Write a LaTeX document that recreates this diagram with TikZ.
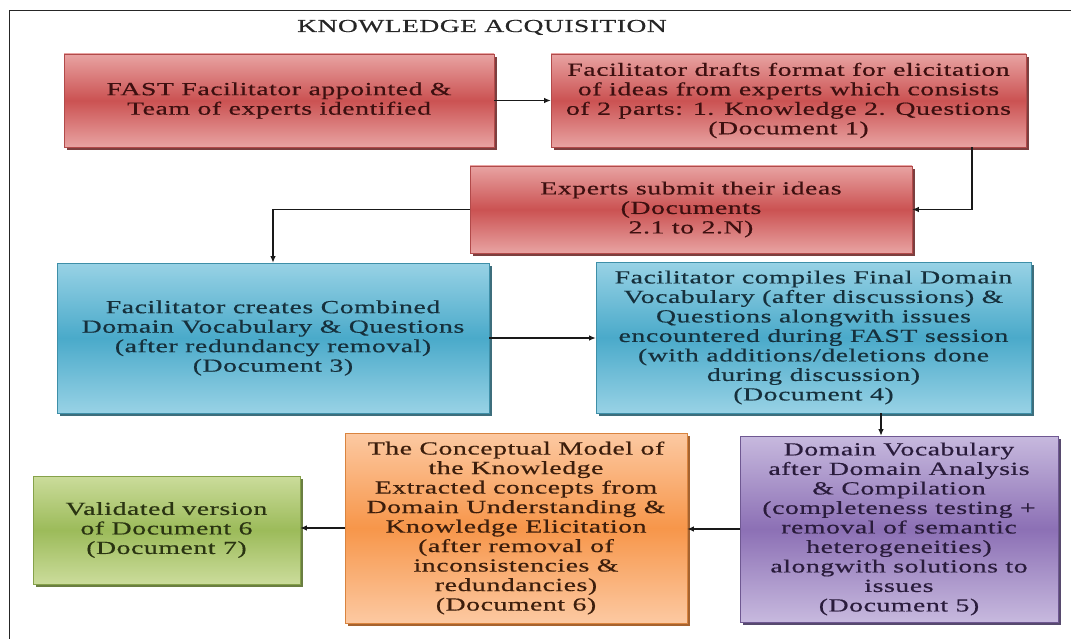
\documentclass[tikz,border=0pt]{standalone}
\usepackage{fontspec}
\setmainfont{Liberation Serif}[FakeStretch=1.5,LetterSpace=3,FakeBold=0.5]
\usetikzlibrary{shadows,arrows.meta}

% box palettes: T = light edge, M = middle band, E = outline, S = shadow, X = text
\definecolor{redT}{HTML}{E8A3A2}
\definecolor{redM}{HTML}{CB5252}
\definecolor{redE}{HTML}{B24A4A}
\definecolor{redS}{HTML}{6E2A2A}
\definecolor{redX}{HTML}{3D1010}
\definecolor{bluT}{HTML}{98D2E5}
\definecolor{bluM}{HTML}{4AAACA}
\definecolor{bluE}{HTML}{3E8FA8}
\definecolor{bluS}{HTML}{285E6E}
\definecolor{bluX}{HTML}{16303C}
\definecolor{purT}{HTML}{C7B9DE}
\definecolor{purM}{HTML}{8C70B5}
\definecolor{purE}{HTML}{6F5892}
\definecolor{purS}{HTML}{45365E}
\definecolor{purX}{HTML}{2A1C3C}
\definecolor{oraT}{HTML}{FCC9A2}
\definecolor{oraM}{HTML}{F7964A}
\definecolor{oraE}{HTML}{D9843F}
\definecolor{oraS}{HTML}{9C5218}
\definecolor{oraX}{HTML}{3C1E0C}
\definecolor{griT}{HTML}{CBDC9B}
\definecolor{griM}{HTML}{9CBB5A}
\definecolor{griE}{HTML}{86A24A}
\definecolor{griS}{HTML}{5A702C}
\definecolor{griX}{HTML}{2A3412}

\tikzset{
  box/.style={rectangle, inner sep=0pt, align=center, line width=0.6pt,
    font=\fontsize{18.5}{19.5}\selectfont},
  palette/.style={box, draw=#1E, top color=#1T, bottom color=#1T, middle color=#1M,
    text=#1X, drop shadow={shadow xshift=2.6pt, shadow yshift=-2.6pt, fill=#1S, opacity=0.9}},
  arr/.style={line width=1.1pt, draw=black!90, -{Latex[length=6.5pt,width=5.5pt]}},
}

\begin{document}
\begin{tikzpicture}[x=1pt,y=-1pt]
  \path[use as bounding box] (0,0) rectangle (1071,639);
  % outer frame
  \draw[line width=1.4pt, black!85] (9.5,639) |- (1071,10.5);

  \node[anchor=base, text=black!85, font=\fontsize{18.3}{19.5}\selectfont] (title) at (482,32) {KNOWLEDGE ACQUISITION};

  \node[palette=red, minimum width=430, minimum height=93] (b1) at (279,100.5)
    {FAST Facilitator appointed \&\\Team of experts identified};
  \node[palette=red, minimum width=475, minimum height=93] (b2) at (788.5,100.5)
    {Facilitator drafts format for elicitation\\of ideas from experts which consists\\of 2 parts: 1. Knowledge 2. Questions\\(Document 1)};
  \node[palette=red, minimum width=442, minimum height=87] (b3) at (691,209.5)
    {Experts submit their ideas\\(Documents\\2.1 to 2.N)};
  \node[palette=blu, minimum width=432, minimum height=150] (b4) at (273,338)
    {Facilitator creates Combined\\Domain Vocabulary \& Questions\\(after redundancy removal)\\(Document 3)};
  \node[palette=blu, minimum width=435, minimum height=151] (b5) at (813.5,337.5)
    {Facilitator compiles Final Domain\\Vocabulary (after discussions) \&\\Questions alongwith issues\\encountered during FAST session\\(with additions/deletions done\\during discussion)\\(Document 4)};
  \node[palette=pur, minimum width=318, minimum height=186] (b6) at (899,529)
    {Domain Vocabulary\\after Domain Analysis\\\& Compilation\\(completeness testing +\\removal of semantic\\heterogeneities)\\alongwith solutions to\\issues\\(Document 5)};
  \node[palette=ora, minimum width=342, minimum height=190] (b7) at (516,528)
    {The Conceptual Model of\\the Knowledge\\Extracted concepts from\\Domain Understanding \&\\Knowledge Elicitation\\(after removal of\\inconsistencies \&\\redundancies)\\(Document 6)};
  \node[palette=gri, minimum width=267, minimum height=108] (b8) at (166.5,530)
    {Validated version\\of Document 6\\(Document 7)};

  % flow
  \draw[arr] (b1.east) -- (b1.east -| b2.west);
  \draw[arr] ([xshift=183.5pt]b2.south) |- (b3.east);
  \draw[arr] (b3.west) -| (b4.north);
  \draw[arr] (b4.east) -- (b4.east -| b5.west);
  \draw[arr] ([xshift=-18pt]b6.north |- b5.south) -- ([xshift=-18pt]b6.north);
  \draw[arr] (b6.west) -- (b6.west -| b7.east);
  \draw[arr] (b7.west) -- (b7.west -| b8.east);
\end{tikzpicture}
\end{document}
